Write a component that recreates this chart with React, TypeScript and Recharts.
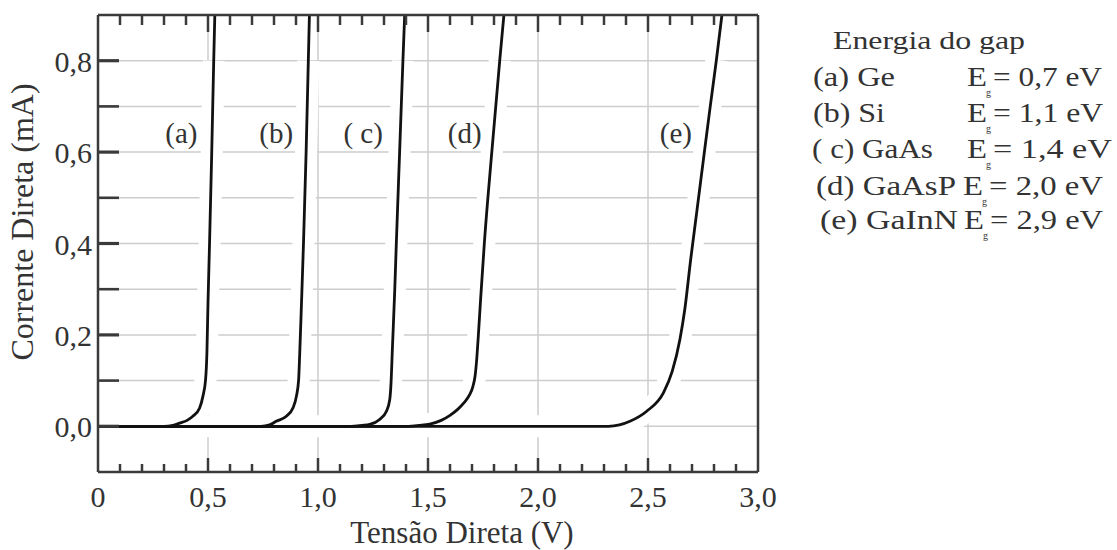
import { LineChart, Line, XAxis, YAxis, CartesianGrid, ReferenceDot } from 'recharts';

// Tensão (V) x corrente (mA)
const curveA = [
  { v: 0, i: 0 }, { v: 0.3, i: 0 }, { v: 0.34, i: 0.002 }, { v: 0.371, i: 0.007 }, { v: 0.405, i: 0.013 },
  { v: 0.431, i: 0.022 }, { v: 0.462, i: 0.04 }, { v: 0.477, i: 0.066 }, { v: 0.489, i: 0.102 },
  { v: 0.495, i: 0.16 }, { v: 0.5, i: 0.27 }, { v: 0.507, i: 0.4 }, { v: 0.517, i: 0.6 },
  { v: 0.526, i: 0.8 }, { v: 0.531, i: 0.9 },
];
const curveB = [
  { v: 0, i: 0 }, { v: 0.74, i: 0 }, { v: 0.78, i: 0.003 }, { v: 0.81, i: 0.011 }, { v: 0.856, i: 0.022 },
  { v: 0.886, i: 0.04 }, { v: 0.902, i: 0.066 }, { v: 0.912, i: 0.102 }, { v: 0.917, i: 0.16 },
  { v: 0.925, i: 0.27 }, { v: 0.934, i: 0.4 }, { v: 0.946, i: 0.6 }, { v: 0.956, i: 0.8 }, { v: 0.961, i: 0.9 },
];
const curveC = [
  { v: 0, i: 0 }, { v: 1.15, i: 0 }, { v: 1.2, i: 0.002 }, { v: 1.235, i: 0.004 }, { v: 1.28, i: 0.015 },
  { v: 1.311, i: 0.033 }, { v: 1.326, i: 0.058 }, { v: 1.332, i: 0.095 }, { v: 1.338, i: 0.168 },
  { v: 1.349, i: 0.3 }, { v: 1.356, i: 0.4 }, { v: 1.371, i: 0.6 }, { v: 1.386, i: 0.8 }, { v: 1.394, i: 0.9 },
];
const curveD = [
  { v: 0, i: 0 }, { v: 1.41, i: 0 }, { v: 1.46, i: 0.002 }, { v: 1.508, i: 0.005 }, { v: 1.56, i: 0.013 },
  { v: 1.6, i: 0.024 }, { v: 1.635, i: 0.037 }, { v: 1.663, i: 0.051 }, { v: 1.688, i: 0.068 },
  { v: 1.704, i: 0.087 }, { v: 1.714, i: 0.11 }, { v: 1.722, i: 0.15 }, { v: 1.729, i: 0.2 },
  { v: 1.739, i: 0.277 }, { v: 1.756, i: 0.4 }, { v: 1.79, i: 0.6 }, { v: 1.826, i: 0.8 }, { v: 1.845, i: 0.9 },
];
const curveE = [
  { v: 0, i: 0 }, { v: 2.32, i: 0 }, { v: 2.37, i: 0.003 }, { v: 2.418, i: 0.011 }, { v: 2.494, i: 0.033 },
  { v: 2.57, i: 0.073 }, { v: 2.61, i: 0.12 }, { v: 2.645, i: 0.19 }, { v: 2.667, i: 0.255 },
  { v: 2.694, i: 0.365 }, { v: 2.723, i: 0.474 }, { v: 2.752, i: 0.584 }, { v: 2.781, i: 0.693 },
  { v: 2.811, i: 0.802 }, { v: 2.836, i: 0.9 },
];
const curves = [curveA, curveB, curveC, curveD, curveE];

const curveLabels = ['(a)', '(b)', '( c)', '(d)', '(e)'];
const curveLabelV = [0.379, 0.81, 1.205, 1.667, 2.627];
const curveLabelI = 0.643;

const xTicks = [0, 0.1, 0.2, 0.3, 0.4, 0.5, 0.6, 0.7, 0.8, 0.9, 1.0, 1.1, 1.2, 1.3, 1.4, 1.5,
  1.6, 1.7, 1.8, 1.9, 2.0, 2.1, 2.2, 2.3, 2.4, 2.5, 2.6, 2.7, 2.8, 2.9, 3.0];
const xTickLabels = ['0', '0,5', '1,0', '1,5', '2,0', '2,5', '3,0'];
const yTicks = [0, 0.1, 0.2, 0.3, 0.4, 0.5, 0.6, 0.7, 0.8];
const yTickLabels = ['0,0', '0,2', '0,4', '0,6', '0,8'];
const gridX = [0.5, 1.0, 1.5, 2.0, 2.5];
const gridY = [0, 0.1, 0.2, 0.3, 0.4, 0.5, 0.6, 0.7, 0.8];

const legendTitle = 'Energia do gap';
const materials = ['(a) Ge', '(b) Si', '( c) GaAs', '(d) GaAsP', '(e) GaInN'];
const gapValues = ['= 0,7 eV', '= 1,1 eV', '= 1,4  eV', '= 2,0 eV', '= 2,9 eV'];

// layout da legenda (px)
const legendRowY = [86, 122, 158, 195, 229];
const legendNameX = [813, 813, 812, 816, 820];
const legendNameW = [82, 72, 121, 140, 138];
const legendEX = [967, 967, 967, 963, 964];
const legendEqW = [109, 110, 119, 114, 113];

const FONT = '"Liberation Serif", "Times New Roman", serif';
const INK = '#333';
const AXIS = '#3a3a3a';

const BottomTick = ({ x, y, payload }: any) => {
  const k = Math.round(payload.value * 10);
  const major = k % 5 === 0;
  const edge = k === 0 || k === 30;
  return (
    <g>
      {!edge && <line x1={x} x2={x} y1={y} y2={y - (major ? 14 : 8)} stroke={AXIS} strokeWidth={2.5} />}
      {major && (
        <text x={x} y={y + 35} textAnchor="middle" fontSize={30} fontFamily={FONT} fill={INK}>
          {xTickLabels[k / 5]}
        </text>
      )}
    </g>
  );
};

const TopTick = ({ x, y, payload }: any) => {
  const k = Math.round(payload.value * 10);
  if (k === 0 || k === 30) return <g />;
  const major = k % 5 === 0;
  return <line x1={x} x2={x} y1={y} y2={y + (major ? 17 : 10)} stroke={AXIS} strokeWidth={2.5} />;
};

const LeftTick = ({ x, y, payload }: any) => {
  const k = Math.round(payload.value * 10);
  const major = k % 2 === 0;
  return (
    <g>
      <line x1={x} x2={x + 21} y1={y} y2={y} stroke={AXIS} strokeWidth={major ? 3.2 : 2.6} />
      {major && (
        <text x={x - 6} y={y + 11} textAnchor="end" fontSize={30} fontFamily={FONT} fill={INK}>
          {yTickLabels[k / 2]}
        </text>
      )}
    </g>
  );
};

const App = () => {
  return (
    <div style={{ position: 'absolute', left: 0, top: 0, width: 1117, height: 550, background: '#fff' }}>
      <LineChart width={1117} height={550} margin={{ top: 14, right: 358, bottom: 77, left: 97 }}>
        <CartesianGrid
          horizontalValues={gridY}
          verticalValues={gridX}
          stroke="#cdcdcd"
          strokeWidth={1.5}
        />
        {/* faixa branca que interrompe a grade junto às curvas */}
        {curves.map((c, idx) => (
          <Line
            key={`halo-${idx}`}
            data={c.filter((p) => p.i <= 0.81 && (idx === 4 || p.v > 0))}
            dataKey="i"
            type="monotone"
            stroke="#ffffff"
            strokeWidth={22}
            dot={false}
            activeDot={false}
            isAnimationActive={false}
          />
        ))}
        <XAxis
          dataKey="v"
          type="number"
          domain={[0, 3]}
          ticks={xTicks}
          interval={0}
          height={1}
          tickSize={0}
          tickMargin={0}
          tickLine={false}
          tick={<BottomTick />}
          axisLine={{ stroke: AXIS, strokeWidth: 2.5 }}
          allowDataOverflow
        />
        <XAxis
          xAxisId="top"
          orientation="top"
          dataKey="v"
          type="number"
          domain={[0, 3]}
          ticks={xTicks}
          interval={0}
          height={1}
          tickSize={0}
          tickMargin={0}
          tickLine={false}
          tick={<TopTick />}
          axisLine={{ stroke: AXIS, strokeWidth: 2.5 }}
          allowDataOverflow
        />
        <YAxis
          type="number"
          domain={[-0.1, 0.9]}
          ticks={yTicks}
          interval={0}
          width={1}
          tickSize={0}
          tickMargin={0}
          tickLine={false}
          tick={<LeftTick />}
          axisLine={{ stroke: AXIS, strokeWidth: 2.5 }}
          allowDataOverflow
        />
        <YAxis
          yAxisId="right"
          orientation="right"
          type="number"
          domain={[-0.1, 0.9]}
          ticks={yTicks}
          width={1}
          tick={false}
          tickLine={false}
          axisLine={{ stroke: AXIS, strokeWidth: 2.5 }}
        />
        {curves.map((c, idx) => (
          <Line
            key={idx}
            data={c}
            dataKey="i"
            type="monotone"
            stroke="#111"
            strokeWidth={2.8}
            dot={false}
            activeDot={false}
            isAnimationActive={false}
          />
        ))}
        {curveLabels.map((lbl, idx) => (
          <ReferenceDot
            key={lbl}
            x={curveLabelV[idx]}
            y={curveLabelI}
            r={0}
            fill="none"
            stroke="none"
            label={{ value: lbl, position: 'center', fontSize: 29, fontFamily: FONT, fill: INK }}
          />
        ))}
      </LineChart>

      <svg
        width={1117}
        height={550}
        style={{ position: 'absolute', left: 0, top: 0, pointerEvents: 'none' }}
        fontFamily={FONT}
        fill={INK}
      >
        <text x={462} y={543} textAnchor="middle" fontSize={31}>Tensão Direta (V)</text>
        <text transform="translate(33,222) rotate(-90)" textAnchor="middle" fontSize={32}>
          Corrente Direta (mA)
        </text>

        <text x={833} y={49} fontSize={26} textLength={192} lengthAdjust="spacingAndGlyphs">
          {legendTitle}
        </text>
        {materials.map((m, idx) => (
          <g key={m}>
            <text
              x={legendNameX[idx]}
              y={legendRowY[idx]}
              fontSize={27}
              textLength={legendNameW[idx]}
              lengthAdjust="spacingAndGlyphs"
            >
              {m}
            </text>
            <text x={legendEX[idx]} y={legendRowY[idx]} fontSize={27} textLength={20} lengthAdjust="spacingAndGlyphs">
              E
            </text>
            <text x={legendEX[idx] + 19} y={legendRowY[idx] + 10} fontSize={10}>g</text>
            <text
              x={legendEX[idx] + 26}
              y={legendRowY[idx]}
              fontSize={27}
              textLength={legendEqW[idx]}
              lengthAdjust="spacingAndGlyphs"
            >
              {gapValues[idx]}
            </text>
          </g>
        ))}
      </svg>
    </div>
  );
};

export default App;
